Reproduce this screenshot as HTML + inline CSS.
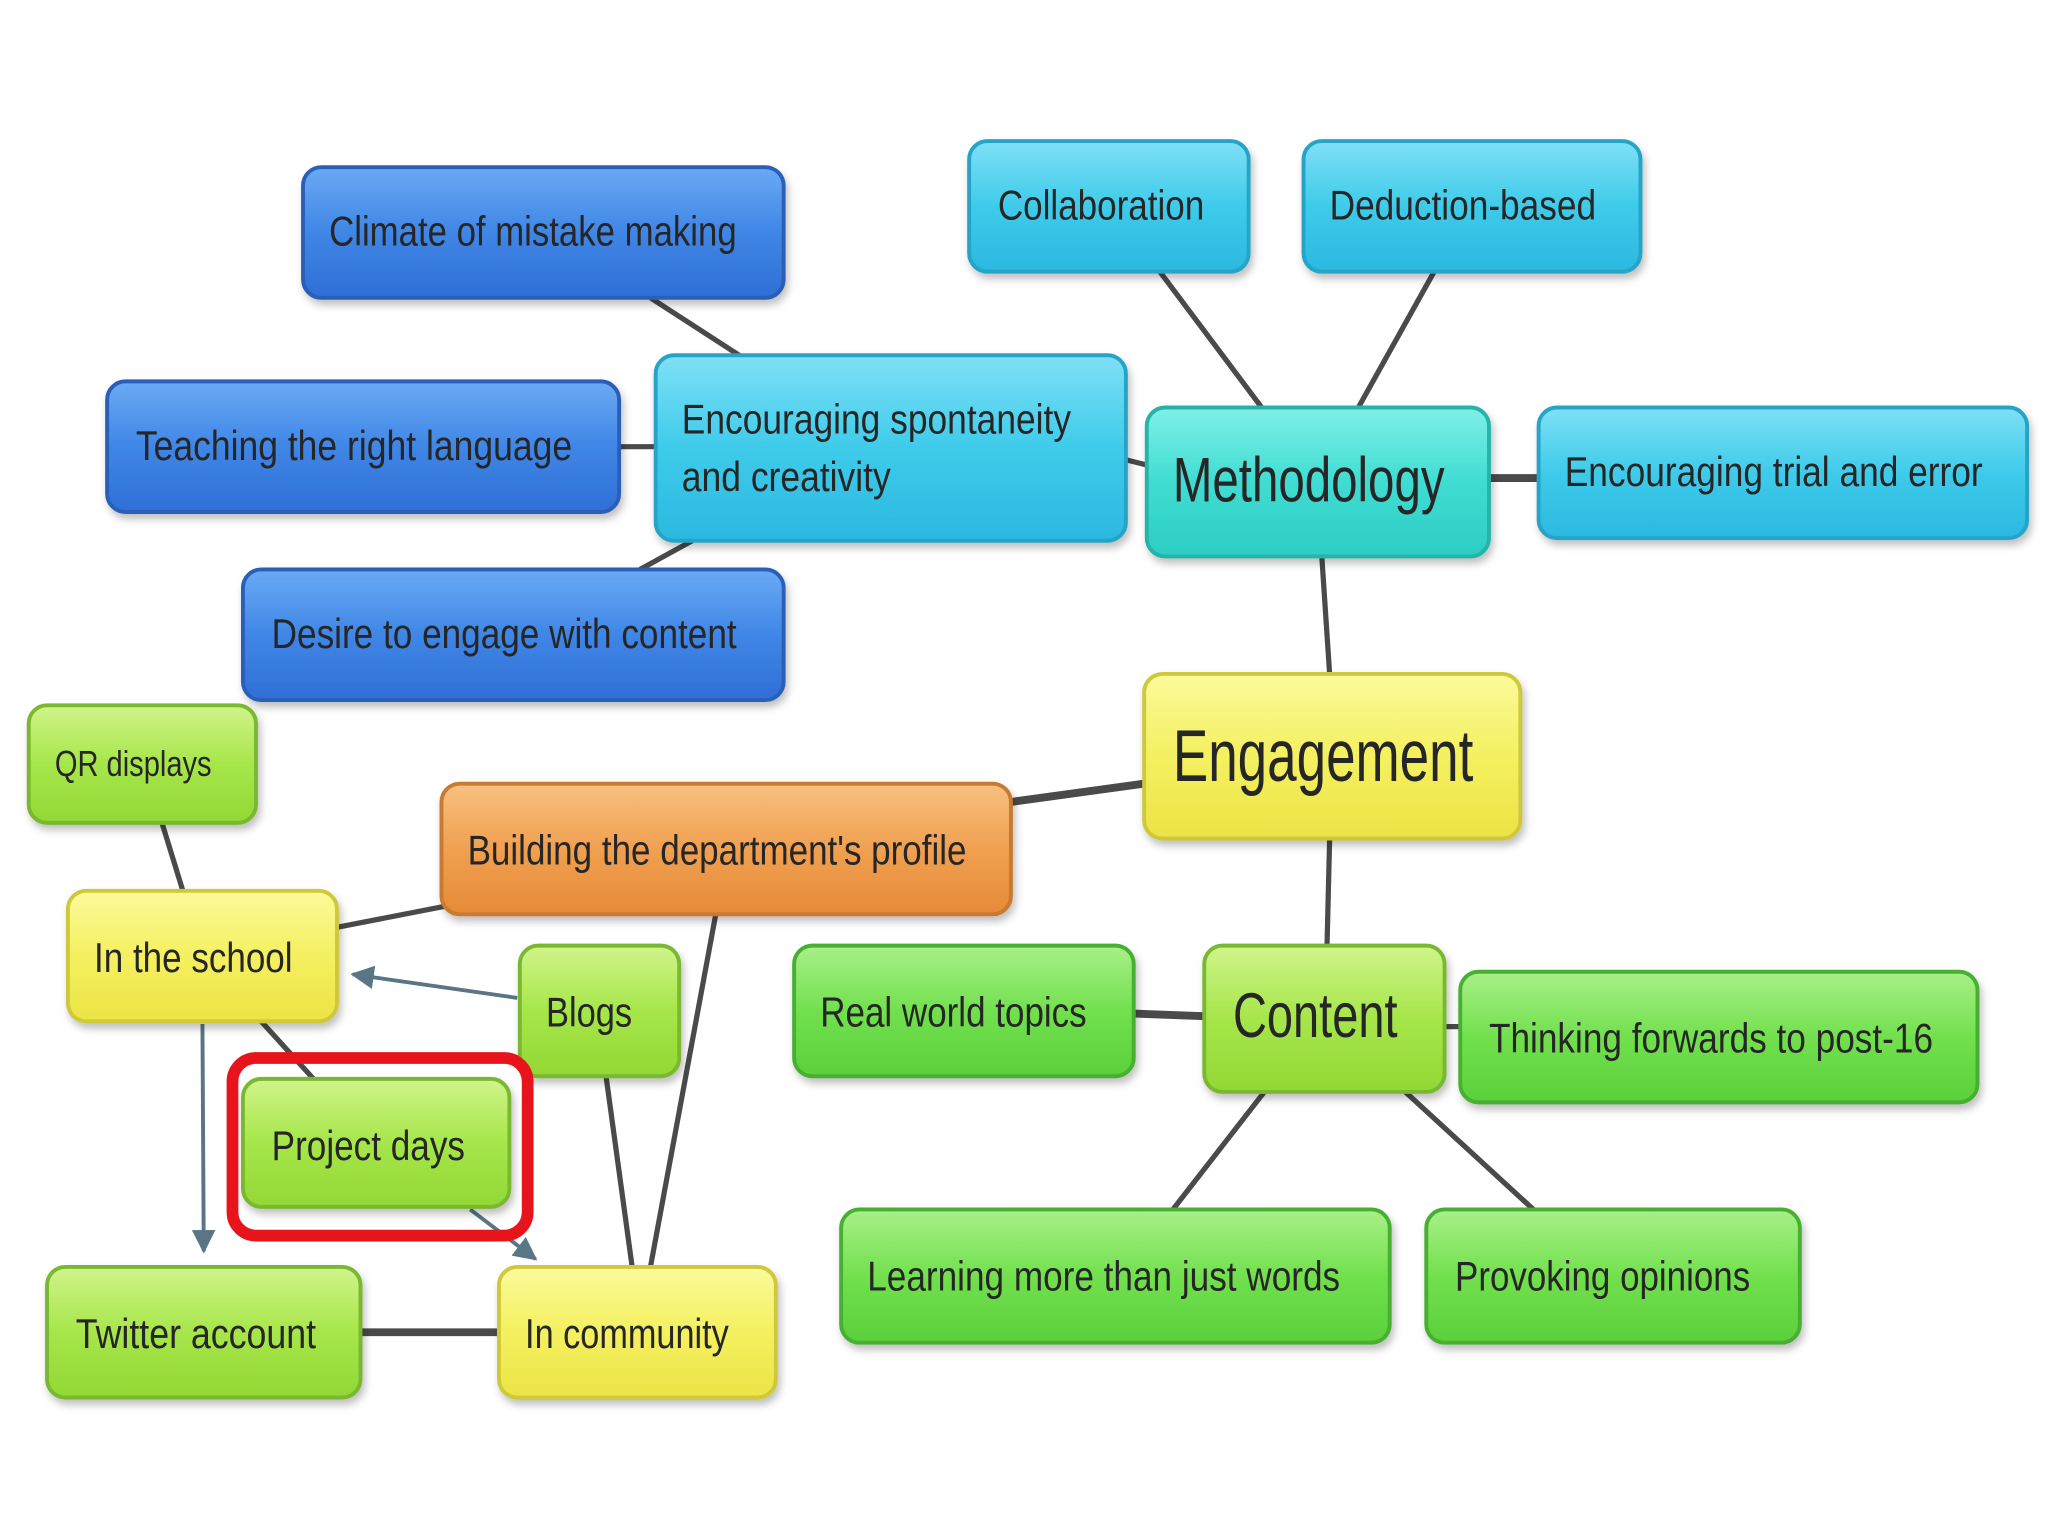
<!DOCTYPE html>
<html><head><meta charset="utf-8"><style>
html,body{margin:0;padding:0;background:#fff;}
svg{display:block}
text{font-family:"Liberation Sans",sans-serif;fill:#262626;}
</style></head><body>
<svg width="2048" height="1536" viewBox="0 0 1568 1176" xmlns="http://www.w3.org/2000/svg">
<defs>
<linearGradient id="gb" x1="0" y1="0" x2="0" y2="1"><stop offset="0" stop-color="#6aaaf4"/><stop offset="0.5" stop-color="#3f86e6"/><stop offset="1" stop-color="#2f6fd6"/></linearGradient>
<linearGradient id="gc" x1="0" y1="0" x2="0" y2="1"><stop offset="0" stop-color="#7fe0f6"/><stop offset="0.5" stop-color="#3ecbea"/><stop offset="1" stop-color="#2bb8e0"/></linearGradient>
<linearGradient id="gt" x1="0" y1="0" x2="0" y2="1"><stop offset="0" stop-color="#7ff0e6"/><stop offset="0.5" stop-color="#40dcd2"/><stop offset="1" stop-color="#2ccdc4"/></linearGradient>
<linearGradient id="gy" x1="0" y1="0" x2="0" y2="1"><stop offset="0" stop-color="#fbfa9a"/><stop offset="0.5" stop-color="#f4f060"/><stop offset="1" stop-color="#ebe446"/></linearGradient>
<linearGradient id="go" x1="0" y1="0" x2="0" y2="1"><stop offset="0" stop-color="#f8c080"/><stop offset="0.5" stop-color="#f0a050"/><stop offset="1" stop-color="#e58a38"/></linearGradient>
<linearGradient id="gg" x1="0" y1="0" x2="0" y2="1"><stop offset="0" stop-color="#a8f088"/><stop offset="0.5" stop-color="#72e04e"/><stop offset="1" stop-color="#5ad03a"/></linearGradient>
<linearGradient id="gl" x1="0" y1="0" x2="0" y2="1"><stop offset="0" stop-color="#d0f48a"/><stop offset="0.5" stop-color="#a6e64a"/><stop offset="1" stop-color="#92d834"/></linearGradient>
<marker id="ar" viewBox="0 0 10 10" refX="9" refY="5" markerWidth="6" markerHeight="6" orient="auto"><path d="M0,0 L10,5 L0,10 z" fill="#5a7585"/></marker>
<filter id="sh" x="-10%" y="-10%" width="120%" height="130%"><feDropShadow dx="2" dy="4" stdDeviation="3" flood-color="#000" flood-opacity="0.25"/></filter>
</defs>
<g stroke="#4a4a4a" stroke-width="4" fill="none">
<line x1="498" y1="228" x2="566" y2="272"/>
<line x1="474" y1="342" x2="502" y2="342"/>
<line x1="490" y1="436" x2="530" y2="414"/>
<line x1="862" y1="352" x2="878" y2="356"/>
<line x1="888" y1="208" x2="966" y2="312"/>
<line x1="1098" y1="208" x2="1040" y2="312"/>
<line x1="1140" y1="366" x2="1178" y2="366" stroke-width="6"/>
<line x1="1012" y1="426" x2="1018" y2="516"/>
<line x1="774" y1="614" x2="876" y2="600" stroke-width="6"/>
<line x1="1018" y1="642" x2="1016" y2="724"/>
<line x1="868" y1="776" x2="922" y2="778" stroke-width="6"/>
<line x1="1106" y1="786" x2="1118" y2="786"/>
<line x1="968" y1="836" x2="898" y2="926"/>
<line x1="1076" y1="836" x2="1174" y2="926"/>
<line x1="124" y1="630" x2="140" y2="682"/>
<line x1="258" y1="710" x2="340" y2="694"/>
<line x1="200" y1="782" x2="240" y2="826"/>
<line x1="464" y1="824" x2="484" y2="970"/>
<line x1="548" y1="700" x2="498" y2="970"/>
<line x1="276" y1="1020" x2="382" y2="1020" stroke-width="6"/>
</g>
<g stroke="#5a7585" stroke-width="3" fill="none">
<line x1="396" y1="764" x2="270" y2="746" marker-end="url(#ar)"/>
<line x1="155" y1="784" x2="156" y2="958" marker-end="url(#ar)"/>
<line x1="360" y1="926" x2="410" y2="964" marker-end="url(#ar)"/>
</g>
<g stroke-width="3" filter="url(#sh)">
<rect x="232" y="128" width="368" height="100" rx="14" fill="url(#gb)" stroke="#2a5fb8"/>
<rect x="82" y="292" width="392" height="100" rx="14" fill="url(#gb)" stroke="#2a5fb8"/>
<rect x="186" y="436" width="414" height="100" rx="14" fill="url(#gb)" stroke="#2a5fb8"/>
<rect x="502" y="272" width="360" height="142" rx="14" fill="url(#gc)" stroke="#27a4c8"/>
<rect x="742" y="108" width="214" height="100" rx="14" fill="url(#gc)" stroke="#27a4c8"/>
<rect x="998" y="108" width="258" height="100" rx="14" fill="url(#gc)" stroke="#27a4c8"/>
<rect x="1178" y="312" width="374" height="100" rx="14" fill="url(#gc)" stroke="#27a4c8"/>
<rect x="878" y="312" width="262" height="114" rx="14" fill="url(#gt)" stroke="#26b4aa"/>
<rect x="876" y="516" width="288" height="126" rx="14" fill="url(#gy)" stroke="#cfc83a"/>
<rect x="338" y="600" width="436" height="100" rx="14" fill="url(#go)" stroke="#c87a30"/>
<rect x="22" y="540" width="174" height="90" rx="14" fill="url(#gl)" stroke="#7ab830"/>
<rect x="52" y="682" width="206" height="100" rx="14" fill="url(#gy)" stroke="#cfc83a"/>
<rect x="398" y="724" width="122" height="100" rx="14" fill="url(#gl)" stroke="#7ab830"/>
<rect x="186" y="826" width="204" height="98" rx="14" fill="url(#gl)" stroke="#7ab830"/>
<rect x="36" y="970" width="240" height="100" rx="14" fill="url(#gl)" stroke="#7ab830"/>
<rect x="382" y="970" width="212" height="100" rx="14" fill="url(#gy)" stroke="#cfc83a"/>
<rect x="608" y="724" width="260" height="100" rx="14" fill="url(#gg)" stroke="#46b030"/>
<rect x="922" y="724" width="184" height="112" rx="14" fill="url(#gl)" stroke="#7ab830"/>
<rect x="1118" y="744" width="396" height="100" rx="14" fill="url(#gg)" stroke="#46b030"/>
<rect x="644" y="926" width="420" height="102" rx="14" fill="url(#gg)" stroke="#46b030"/>
<rect x="1092" y="926" width="286" height="102" rx="14" fill="url(#gg)" stroke="#46b030"/>
</g>
<rect x="178" y="810" width="226" height="136" rx="18" fill="none" stroke="#e8141c" stroke-width="9"/>
<g font-size="32">
<text x="252" y="188" textLength="312" lengthAdjust="spacingAndGlyphs">Climate of mistake making</text>
<text x="104" y="352" textLength="334" lengthAdjust="spacingAndGlyphs">Teaching the right language</text>
<text x="208" y="496" textLength="356" lengthAdjust="spacingAndGlyphs">Desire to engage with content</text>
<text x="522" y="332" textLength="298" lengthAdjust="spacingAndGlyphs">Encouraging spontaneity</text>
<text x="522" y="376" textLength="160" lengthAdjust="spacingAndGlyphs">and creativity</text>
<text x="764" y="168" textLength="158" lengthAdjust="spacingAndGlyphs">Collaboration</text>
<text x="1018" y="168" textLength="204" lengthAdjust="spacingAndGlyphs">Deduction-based</text>
<text x="1198" y="372" textLength="320" lengthAdjust="spacingAndGlyphs">Encouraging trial and error</text>
<text x="358" y="662" textLength="382" lengthAdjust="spacingAndGlyphs">Building the department's profile</text>
<text x="42" y="594" font-size="28" textLength="120" lengthAdjust="spacingAndGlyphs">QR displays</text>
<text x="72" y="744" textLength="152" lengthAdjust="spacingAndGlyphs">In the school</text>
<text x="418" y="786" textLength="66" lengthAdjust="spacingAndGlyphs">Blogs</text>
<text x="208" y="888" textLength="148" lengthAdjust="spacingAndGlyphs">Project days</text>
<text x="58" y="1032" textLength="184" lengthAdjust="spacingAndGlyphs">Twitter account</text>
<text x="402" y="1032" textLength="156" lengthAdjust="spacingAndGlyphs">In community</text>
<text x="628" y="786" textLength="204" lengthAdjust="spacingAndGlyphs">Real world topics</text>
<text x="1140" y="806" textLength="340" lengthAdjust="spacingAndGlyphs">Thinking forwards to post-16</text>
<text x="664" y="988" textLength="362" lengthAdjust="spacingAndGlyphs">Learning more than just words</text>
<text x="1114" y="988" textLength="226" lengthAdjust="spacingAndGlyphs">Provoking opinions</text>
</g>
<text x="898" y="384" font-size="48" textLength="208" lengthAdjust="spacingAndGlyphs">Methodology</text>
<text x="898" y="598" font-size="56" textLength="230" lengthAdjust="spacingAndGlyphs">Engagement</text>
<text x="944" y="794" font-size="48" textLength="126" lengthAdjust="spacingAndGlyphs">Content</text>
</svg>
</body></html>
